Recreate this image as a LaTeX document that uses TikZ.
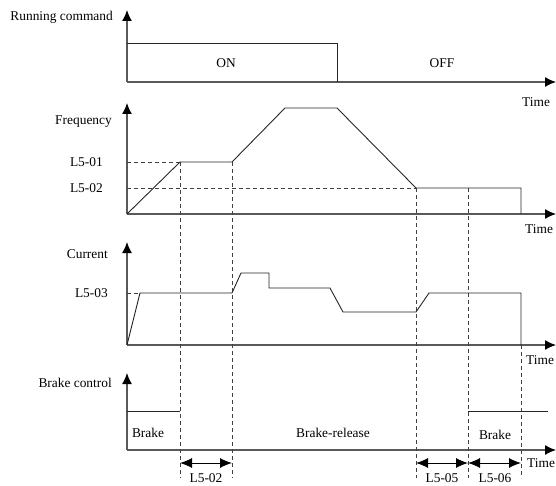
\documentclass[tikz,border=0pt]{standalone}
\usepackage{fontspec}
\setmainfont{Liberation Serif}
\usetikzlibrary{arrows.meta, positioning}

\begin{document}
\begin{tikzpicture}[x=1pt, y=-1pt, font=\fontsize{13.4}{16}\selectfont,
        axis/.style={line width=1.3pt, draw=black!65, -{Latex[length=11pt, width=10pt, color=black]}},
        signal/.style={line width=0.9pt, draw=black!85},
        guide/.style={line width=0.8pt, draw=black!75, dash pattern=on 4pt off 3pt},
        span/.style={line width=1pt, {Latex[length=12pt, width=10pt]}-{Latex[length=12pt, width=10pt]}},
        lbl/.style={anchor=east, inner sep=0pt},
        txt/.style={inner sep=0pt}
    ]
    \useasboundingbox (0,0) rectangle (556,486);

    % axes of the four panels
    \foreach \name/\base/\top in {run/82/10, freq/214/103, cur/345/242, brk/450/373} {
        \coordinate (\name-o) at (127,\base);
        \coordinate (\name-y) at (127,\top);
        \coordinate (\name-x) at (556,\base);
        \draw[axis] (\name-o) -- (\name-y);
        \draw[axis] (\name-o) -- (\name-x);
    }

    % axis labels
    \node[lbl] (runlbl) at (113,17) {Running command};
    \node[lbl] (freqlbl) at (112,122) {Frequency};
    \node[lbl] (l501) at (103,162) {L5-01};
    \node[lbl] (l502) at (103,188) {L5-02};
    \node[lbl] (curlbl) at (108,254) {Current};
    \node[lbl] (l503) at (108,293) {L5-03};
    \node[lbl] (brklbl) at (112,383) {Brake control};

    \node[txt, anchor=west] (time1) at (522,102) {Time};
    \node[txt, anchor=west] (time2) at (525,229) {Time};
    \node[txt, anchor=west] (time3) at (526,360) {Time};
    \node[txt, anchor=west] (time4) at (527,463) {Time};

    % guides
    \draw[guide] (127,162) -- (180,162);
    \draw[guide] (127,188) -- (416,188);
    \draw[guide] (127,293) -- (140,293);
    \foreach \x/\from in {180/162, 232/162, 416/188, 468/188, 521/345}
        \draw[guide] (\x,\from) -- (\x,478);

    % running command
    \draw[signal] (127,43) -- (337,43) -- (337,82);
    \node[txt] (on) at (226,63) {ON};
    \node[txt] (off) at (442,63) {OFF};

    % frequency
    \draw[signal] (127,214) -- (180,162) -- (232,162) -- (285,108) -- (337,108)
        -- (416,188) -- (521,188) -- (521,214);

    % current
    \draw[signal] (127,345) -- (140,293) -- (232,293) -- (241,273) -- (269,273)
        -- (269,288) -- (330,288) -- (343,312) -- (416,312) -- (429,293)
        -- (521,293) -- (521,345);

    % brake control
    \draw[signal] (127,411) -- (180,411);
    \draw[signal] (468,411) -- (548,411);
    \node[txt] (brake1) at (148,433) {Brake};
    \node[txt] (release) at (333,433) {Brake-release};
    \node[txt] (brake2) at (495,435) {Brake};

    % delay spans
    \foreach \n/\x in {1/180, 2/232, 3/416, 4/468, 5/521}
        \coordinate (d\n) at (\x,463);
    \draw[span] (d1) -- (d2);
    \draw[span] (d3) -- (d4);
    \draw[span] (d4) -- (d5);
    \node[txt] (l502b) at (206,478) {L5-02};
    \node[txt] (l505) at (442,478) {L5-05};
    \node[txt] (l506) at (495,478) {L5-06};
\end{tikzpicture}
\end{document}
